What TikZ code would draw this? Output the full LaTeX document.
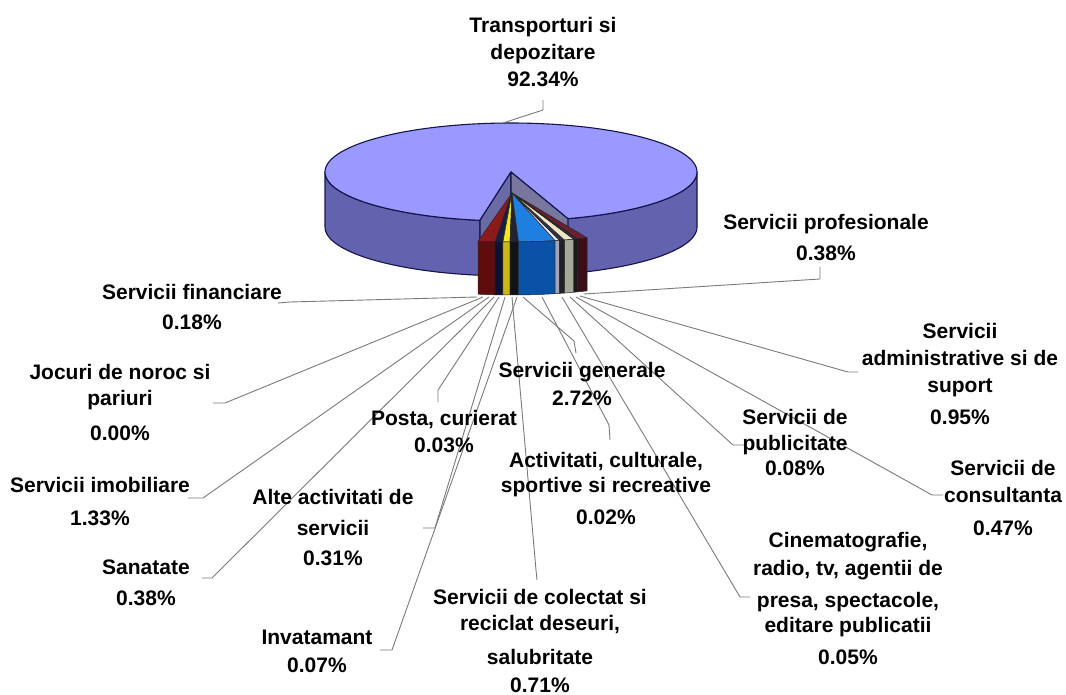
\documentclass[tikz,border=0pt]{standalone}
\usepackage{fontspec}
\setmainfont{Liberation Sans}
\usetikzlibrary{positioning}

\definecolor{pietop}{HTML}{9999FF}
\definecolor{pieside}{HTML}{6262AE}
\definecolor{pieedge}{HTML}{14144A}
\definecolor{notchl}{HTML}{6A6AA4}
\definecolor{notchr}{HTML}{77779F}
\definecolor{leadgray}{HTML}{7A7A7A}
\definecolor{wt1}{HTML}{8B1A1A}\definecolor{ws1}{HTML}{5E0C0C}
\definecolor{wt2}{HTML}{1C1C44}\definecolor{ws2}{HTML}{101030}
\definecolor{wt3}{HTML}{F2E820}\definecolor{ws3}{HTML}{C8B814}
\definecolor{wt4}{HTML}{222232}\definecolor{ws4}{HTML}{111118}
\definecolor{wt5}{HTML}{1E7FE0}\definecolor{ws5}{HTML}{0A52A8}
\definecolor{wt6}{HTML}{E4E4FA}\definecolor{ws6}{HTML}{A4A4B4}
\definecolor{wt7}{HTML}{303040}\definecolor{ws7}{HTML}{202028}
\definecolor{wt8}{HTML}{EEE6C4}\definecolor{ws8}{HTML}{A8A898}
\definecolor{wt9}{HTML}{303030}\definecolor{ws9}{HTML}{181818}
\definecolor{wt10}{HTML}{6A2030}\definecolor{ws10}{HTML}{3A1018}

\begin{document}
\begin{tikzpicture}[x=1pt,y=-1pt,
    lbl/.style={font=\bfseries\fontsize{21}{27}\selectfont,align=center,inner sep=0pt},
    leader/.style={draw=leadgray,line width=0.9pt,line join=round},
    rim/.style={draw=pieedge,line width=1.1pt,line join=round},
    wedge/.style={draw=black!85,line width=0.5pt,line join=round}]
  \useasboundingbox (0,0) rectangle (1066,695);
  \fill[white] (0,0) rectangle (1066,695);
  \def\rx{186}\def\ry{49}

  % big slice: walls, top, notch
  \filldraw[rim,fill=pieside] plot[domain=99.6:180,samples=40] ({511+\rx*cos(\x)},{172+\ry*sin(\x)})
    -- plot[domain=180:99.6,samples=40] ({511+\rx*cos(\x)},{227+\ry*sin(\x)}) -- cycle;
  \filldraw[rim,fill=pieside] plot[domain=0:72.2,samples=40] ({511+\rx*cos(\x)},{172+\ry*sin(\x)})
    -- plot[domain=72.2:0,samples=40] ({511+\rx*cos(\x)},{227+\ry*sin(\x)}) -- cycle;
  \filldraw[rim,fill=pietop] (511,172) -- plot[domain=99.6:432.2,samples=150] ({511+\rx*cos(\x)},{172+\ry*sin(\x)}) -- cycle;
  \filldraw[rim,fill=notchl] (511,172) -- ({511+\rx*cos(99.6)},{172+\ry*sin(99.6)})
    -- ({511+\rx*cos(99.6)},{227+\ry*sin(99.6)}) -- (511,227) -- cycle;
  \filldraw[rim,fill=notchr] (511,172) -- ({511+\rx*cos(72.2)},{172+\ry*sin(72.2)})
    -- ({511+\rx*cos(72.2)},{227+\ry*sin(72.2)}) -- (511,227) -- cycle;

  % pulled out small slices
  \foreach \a/\b/\ct/\cs in {100.5/95.2/wt1/ws1, 95.2/92.8/wt2/ws2, 92.8/90.6/wt3/ws3,
      90.6/88.0/wt4/ws4, 88.0/76.6/wt5/ws5, 76.6/75.2/wt6/ws6, 75.2/73.6/wt7/ws7,
      73.6/70.6/wt8/ws8, 70.6/69.4/wt9/ws9, 69.4/66.2/wt10/ws10}
  {
    \filldraw[wedge,fill=\ct] (512,193) -- plot[domain=\a:\b,samples=8] ({512+\rx*cos(\x)},{193+\ry*sin(\x)}) -- cycle;
    \filldraw[wedge,fill=\cs] plot[domain=\a:\b,samples=8] ({512+\rx*cos(\x)},{193+\ry*sin(\x)})
      -- plot[domain=\b:\a,samples=8] ({512+\rx*cos(\x)},{246+\ry*sin(\x)}) -- cycle;
  }

  % leader lines
  \foreach \n/\s/\k/\e in {trans/{503,123}/{543,110}/{543,100}, prof/{584,294}/{820,279}/{820,267},
      fin/{477,297}/{290,302}/{278,303}, joc/{483,297}/{225,403}/{213,403},
      imob/{489,297}/{203,498}/{188,498}, san/{494,297}/{212,578}/{202,578},
      posta/{499,297}/{438,390}/{438,402}, alte/{505,297}/{435,528}/{423,528},
      inv/{517,297}/{392,650}/{380,650}, colect/{512,297}/{536,570}/{537,580},
      gen/{523,297}/{574,341}/{576,353}, activ/{542,297}/{609,425}/{610,440},
      cine/{562,297}/{740,597}/{750,597}, publ/{570,297}/{733,445}/{745,445},
      cons/{576,297}/{932,495}/{943,495}, adm/{580,296}/{848,372}/{858,372}}
  {
    \coordinate (s_\n) at (\s);
    \coordinate (k_\n) at (\k);
    \coordinate (e_\n) at (\e);
    \draw[leader] (s_\n) -- (k_\n) -- (e_\n);
  }

  % labels
  \node[lbl] (l_trans) at (543,52.5) {Transporturi si\\depozitare\\92.34\%};
  \node[lbl] (l_prof) at (826,237.5) {Servicii profesionale\\[4pt]0.38\%};
  \node[lbl] (l_fin) at (192,307) {Servicii financiare\\[3pt]0.18\%};
  \node[lbl] (l_joc) at (120,402.5) {Jocuri de noroc si\\[-1pt]pariuri\\[8pt]0.00\%};
  \node[lbl] (l_imob) at (100,501.5) {Servicii imobiliare\\[6pt]1.33\%};
  \node[lbl] (l_san) at (146,582.5) {Sanatate\\[4pt]0.38\%};
  \node[lbl] (l_alte) at (333,527.5) {Alte activitati de\\[4pt]servicii\\[3pt]0.31\%};
  \node[lbl] (l_posta) at (444,431.5) {Posta, curierat\\0.03\%};
  \node[lbl] (l_gen) at (582,384) {Servicii generale\\[1pt]2.72\%};
  \node[lbl] (l_activ) at (606,488.5) {Activitati, culturale,\\[-2pt]sportive si recreative\\[5pt]0.02\%};
  \node[lbl] (l_colect) at (540,641) {Servicii de colectat si\\[-1pt]reciclat deseuri,\\[7pt]salubritate\\[1pt]0.71\%};
  \node[lbl] (l_inv) at (317,651) {Invatamant\\[1pt]0.07\%};
  \node[lbl] (l_cine) at (848,598.5) {Cinematografie,\\[1pt]radio, tv, agentii de\\[5pt]presa, spectacole,\\[-2pt]editare publicatii\\[5pt]0.05\%};
  \node[lbl] (l_publ) at (795,442.5) {Servicii de\\[-1pt]publicitate\\[-2pt]0.08\%};
  \node[lbl] (l_adm) at (960,374) {Servicii\\administrative si de\\suport\\[5pt]0.95\%};
  \node[lbl] (l_cons) at (1003,498) {Servicii de\\consultanta\\[6pt]0.47\%};
\end{tikzpicture}
\end{document}
